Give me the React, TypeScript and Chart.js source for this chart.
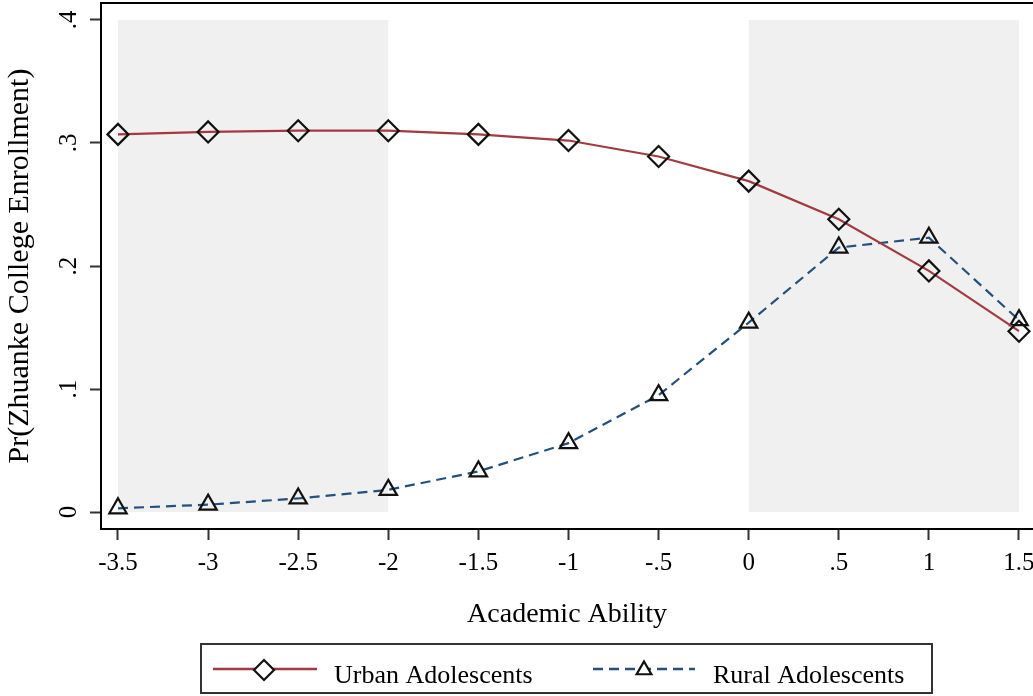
import React, { useEffect, useRef } from "react";
import { Chart, registerables } from "chart.js";

Chart.register(...registerables);

const abilityLevels = [-3.5, -3, -2.5, -2, -1.5, -1, -0.5, 0, 0.5, 1, 1.5];
const urbanValues = [0.307, 0.309, 0.310, 0.310, 0.307, 0.302, 0.289, 0.269, 0.238, 0.196, 0.147];
const ruralValues = [0.003, 0.006, 0.011, 0.018, 0.033, 0.056, 0.095, 0.154, 0.215, 0.223, 0.156];

const xTickValues = [-3.5, -3, -2.5, -2, -1.5, -1, -0.5, 0, 0.5, 1, 1.5];
const xTickLabels = ["-3.5", "-3", "-2.5", "-2", "-1.5", "-1", "-.5", "0", ".5", "1", "1.5"];
const yTickValues = [0, 0.1, 0.2, 0.3, 0.4];
const yTickLabels = ["0", ".1", ".2", ".3", ".4"];

const shadedRanges = [
  [-3.5, -2],
  [0, 1.5],
];
const shadeYRange = [0, 0.4];

const seriesNames = ["Urban Adolescents", "Rural Adolescents"];

const URBAN_COLOR = "#a23a40";
const RURAL_COLOR = "#23507c";
const SERIF = "'Liberation Serif', 'Times New Roman', serif";

function diamond(ctx: CanvasRenderingContext2D, x: number, y: number, r: number) {
  ctx.beginPath();
  ctx.moveTo(x, y - r);
  ctx.lineTo(x + r, y);
  ctx.lineTo(x, y + r);
  ctx.lineTo(x - r, y);
  ctx.closePath();
}
function triangle(ctx: CanvasRenderingContext2D, x: number, y: number, r: number) {
  const a = -Math.PI / 2;
  ctx.beginPath();
  for (let i = 0; i < 3; i++) {
    const ang = a + (i * 2 * Math.PI) / 3;
    const px = x + Math.cos(ang) * r;
    const py = y + Math.sin(ang) * r;
    if (i === 0) ctx.moveTo(px, py);
    else ctx.lineTo(px, py);
  }
  ctx.closePath();
}

const zeroPadding = () => ({ left: 0, top: 0, right: 0, bottom: 0 });

const shadePlugin = {
  id: "shade",
  beforeDatasetsDraw(chart: any) {
    const { ctx, scales } = chart;
    const xs = scales.x;
    const ys = scales.y;
    ctx.save();
    ctx.fillStyle = "#f0f0f0";
    for (const [a, b] of shadedRanges) {
      const x0 = xs.getPixelForValue(a);
      const x1 = xs.getPixelForValue(b);
      const y0 = ys.getPixelForValue(shadeYRange[1]);
      const y1 = ys.getPixelForValue(shadeYRange[0]);
      ctx.fillRect(x0, y0, x1 - x0, y1 - y0);
    }
    ctx.restore();
  },
};

const framePlugin = {
  id: "frame",
  afterDraw(chart: any) {
    const { ctx, chartArea } = chart;
    ctx.save();
    ctx.strokeStyle = "#000";
    ctx.lineWidth = 2;
    ctx.beginPath();
    ctx.moveTo(chartArea.left - 1, chartArea.top);
    ctx.lineTo(chartArea.right, chartArea.top);
    ctx.stroke();
    ctx.restore();
  },
};

const legendPlugin = {
  id: "boxLegend",
  afterDraw(chart: any) {
    const { ctx } = chart;
    ctx.save();
    ctx.strokeStyle = "#333";
    ctx.lineWidth = 2;
    ctx.strokeRect(201, 644, 731, 49);
    const cy = 669;
    // urban
    ctx.strokeStyle = URBAN_COLOR;
    ctx.lineWidth = 2.5;
    ctx.beginPath();
    ctx.moveTo(213, cy);
    ctx.lineTo(317, cy);
    ctx.stroke();
    ctx.fillStyle = "#fff";
    ctx.strokeStyle = "#111";
    ctx.lineWidth = 2.2;
    diamond(ctx, 264, cy + 1, 10);
    ctx.fill();
    ctx.stroke();
    // rural
    ctx.strokeStyle = RURAL_COLOR;
    ctx.lineWidth = 2.5;
    ctx.setLineDash([10, 6]);
    ctx.beginPath();
    ctx.moveTo(593, cy);
    ctx.lineTo(695, cy);
    ctx.stroke();
    ctx.setLineDash([]);
    ctx.fillStyle = "#fff";
    ctx.strokeStyle = "#111";
    ctx.lineWidth = 2.2;
    triangle(ctx, 644, cy + 1, 8.5);
    ctx.fill();
    ctx.stroke();
    // text
    ctx.fillStyle = "#000";
    ctx.font = `26px ${SERIF}`;
    ctx.textBaseline = "alphabetic";
    ctx.textAlign = "left";
    ctx.fillText(seriesNames[0], 334, 683);
    ctx.fillText(seriesNames[1], 713, 683);
    ctx.restore();
  },
};

export default function App() {
  const ref = useRef<HTMLCanvasElement | null>(null);
  useEffect(() => {
    document.body.style.margin = "0";
    const canvas = ref.current;
    if (!canvas) return;
    const chart = new Chart(canvas, {
      type: "line",
      data: {
        datasets: [
          {
            label: seriesNames[0],
            data: abilityLevels.map((x, i) => ({ x, y: urbanValues[i] })),
            borderColor: URBAN_COLOR,
            borderWidth: 2.2,
            tension: 0,
            pointStyle: "rectRot",
            pointRadius: 10.5,
            pointBorderColor: "#111",
            pointBorderWidth: 2.2,
            pointBackgroundColor: "rgba(0,0,0,0)",
          },
          {
            label: seriesNames[1],
            data: abilityLevels.map((x, i) => ({ x, y: ruralValues[i] })),
            borderColor: RURAL_COLOR,
            borderWidth: 2.2,
            borderDash: [10, 6],
            tension: 0,
            pointStyle: "triangle",
            pointRadius: 10,
            pointBorderColor: "#111",
            pointBorderWidth: 2.2,
            pointBackgroundColor: "rgba(0,0,0,0)",
          },
        ],
      },
      options: {
        animation: false,
        responsive: false,
        events: [],
        layout: { autoPadding: false, padding: { top: 3, left: 0, right: 0, bottom: 63 } },
        plugins: { legend: { display: false }, tooltip: { enabled: false } },
        scales: {
          x: {
            type: "linear",
            min: -3.5943,
            max: 1.5777,
            afterBuildTicks: (s: any) => {
              s.ticks = xTickValues.map((v) => ({ value: v }));
            },
            afterFit: (s: any) => {
              s.height = 104;
              s.paddingLeft = 0;
              s.paddingRight = 0;
              s.paddingTop = 0;
              s.paddingBottom = 0;
              s.getPadding = zeroPadding;
            },
            grid: {
              display: true,
              drawOnChartArea: false,
              drawTicks: true,
              tickLength: 11,
              tickColor: "#333",
              tickWidth: 2,
            },
            border: { display: true, color: "#000", width: 2 },
            ticks: {
              autoSkip: false,
              maxRotation: 0,
              minRotation: 0,
              padding: 8,
              color: "#000",
              font: { family: SERIF, size: 25 },
              callback: (v: any) => {
                const i = xTickValues.findIndex((t) => Math.abs(t - Number(v)) < 1e-9);
                return i >= 0 ? xTickLabels[i] : "";
              },
            },
            title: {
              display: true,
              text: "Academic Ability",
              color: "#000",
              font: { family: SERIF, size: 28 },
              padding: { top: 0, bottom: 2 },
            },
          },
          y: {
            type: "linear",
            min: -0.01382,
            max: 0.41382,
            afterBuildTicks: (s: any) => {
              s.ticks = yTickValues.map((v) => ({ value: v }));
            },
            afterFit: (s: any) => {
              s.width = 101;
              s.paddingLeft = 0;
              s.paddingRight = 0;
              s.paddingTop = 0;
              s.paddingBottom = 0;
              s.getPadding = zeroPadding;
            },
            grid: {
              display: true,
              drawOnChartArea: false,
              drawTicks: true,
              tickLength: 11,
              tickColor: "#333",
              tickWidth: 2,
            },
            border: { display: true, color: "#000", width: 2 },
            ticks: {
              autoSkip: false,
              minRotation: 90,
              maxRotation: 90,
              crossAlign: "center",
              padding: 11,
              color: "#000",
              font: { family: SERIF, size: 25 },
              callback: (v: any) => {
                const i = yTickValues.findIndex((t) => Math.abs(t - Number(v)) < 1e-9);
                return i >= 0 ? yTickLabels[i] : "";
              },
            },
            title: {
              display: true,
              text: "Pr(Zhuanke College Enrollment)",
              color: "#000",
              font: { family: SERIF, size: 30 },
              padding: { top: 2, bottom: 0 },
            },
          },
        },
      },
      plugins: [shadePlugin, framePlugin, legendPlugin],
    } as any);
    return () => chart.destroy();
  }, []);
  return (
    <div style={{ width: 1033, height: 696, position: "relative" }}>
      <canvas ref={ref} width={1033} height={696} style={{ display: "block" }} />
    </div>
  );
}
